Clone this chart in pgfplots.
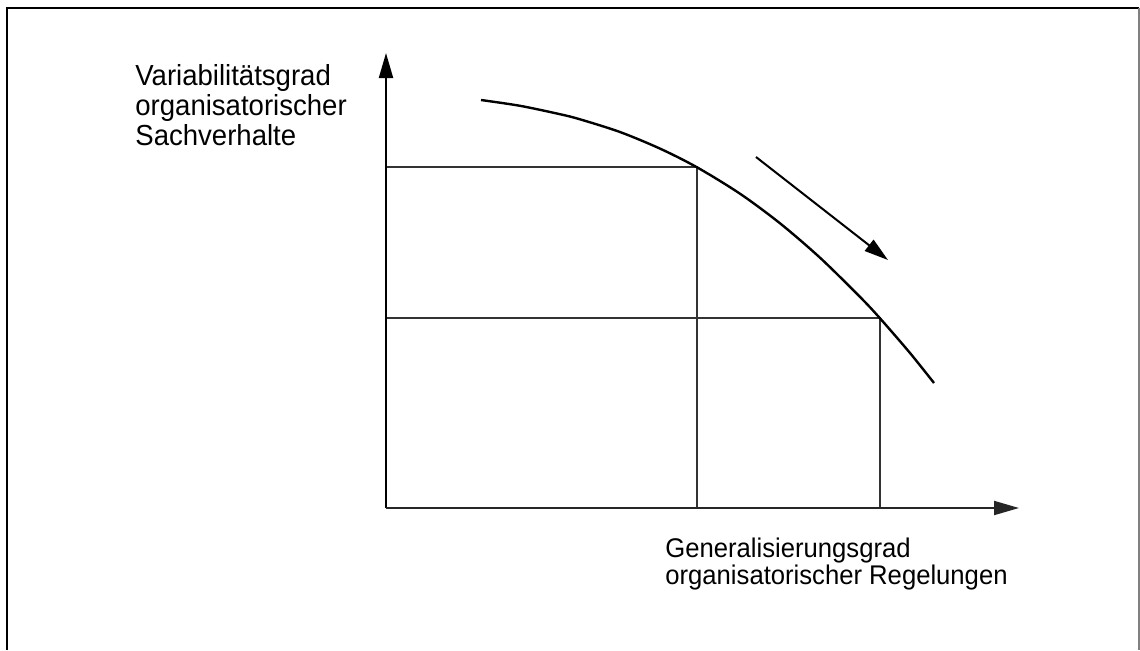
\documentclass[border=0pt]{standalone}
\usepackage{pgfplots}
\pgfplotsset{compat=1.18}
\usetikzlibrary{arrows.meta}
\usepackage{fontspec}
\setmainfont[FakeStretch=0.95]{Liberation Sans}
\begin{document}
\begin{tikzpicture}
\begin{axis}[
  name=ax,
  width=570pt, height=325pt, scale only axis,
  xmin=0, xmax=1140, ymin=0, ymax=650, y dir=reverse,
  hide axis, clip=false,
]
% frame
\addplot[black, line width=1pt] coordinates {(7,650) (7,7.5) (1139,7.5)};
\addplot[gray, line width=0.6pt] coordinates {(1139,7.5) (1139,650)};
% rectangles
\addplot[black!80, line width=0.7pt] coordinates {(386,167) (697,167) (697,508)};
\addplot[black!80, line width=0.7pt] coordinates {(386,318) (880,318) (880,508)};
% axes
\addplot[black, line width=1pt, -{Triangle[length=12.5pt,width=7pt]}] coordinates {(386,508) (386,53)};
\addplot[black!85, line width=1pt, -{Triangle[length=12.5pt,width=7pt]}] coordinates {(386,508) (1019,508)};
% curve
\addplot[black, line width=1.2pt, smooth] coordinates {
  (481,100) (520,105.8) (560,114.2) (580,119.3) (620,132.0) (660,148.6)
  (697,167.3) (740,193.7) (780,223.3) (820,257.7) (860,296.9) (880,318.3)
  (910,353) (934,383)};
% direction arrow
\addplot[black, line width=1pt, -{Triangle[length=12pt,width=7pt]}] coordinates {(756,157) (888,260)};
% labels
\node[anchor=base west, inner sep=0, font=\fontsize{14.5}{15}\selectfont] at (axis cs:135,85) {Variabilitätsgrad};
\node[anchor=base west, inner sep=0, font=\fontsize{14.5}{15}\selectfont] at (axis cs:135,115) {organisatorischer};
\node[anchor=base west, inner sep=0, font=\fontsize{14.5}{15}\selectfont] at (axis cs:135,145) {Sachverhalte};
\node[anchor=base west, inner sep=0, font=\fontsize{13.5}{14}\selectfont] at (axis cs:665,557) {Generalisierungsgrad};
\node[anchor=base west, inner sep=0, font=\fontsize{13.5}{14}\selectfont] at (axis cs:665,584) {organisatorischer Regelungen};
\end{axis}
\pgfresetboundingbox
\path[use as bounding box] (ax.south west) rectangle (ax.north east);
\end{tikzpicture}
\end{document}
